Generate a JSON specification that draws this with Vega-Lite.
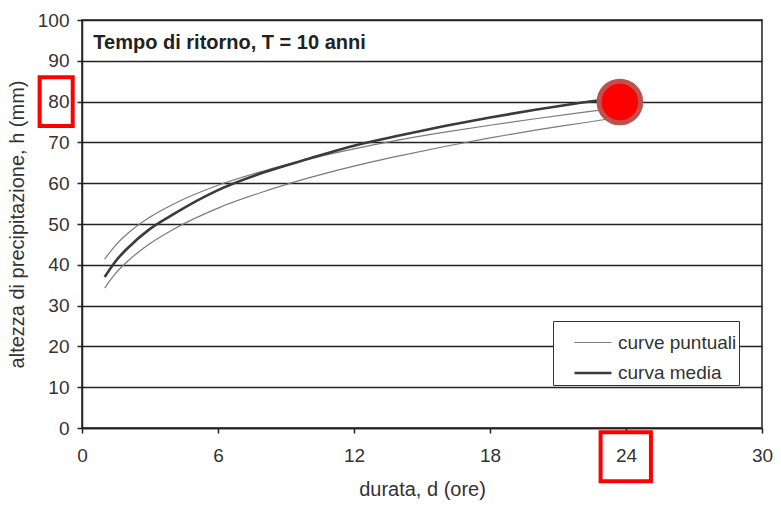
{
  "$schema": "https://vega.github.io/schema/vega-lite/v6.json",
  "width": 680,
  "height": 408,
  "autosize": {"type": "none"},
  "padding": {"left": 82, "top": 20, "right": 19, "bottom": 78},
  "background": "white",
  "config": {
    "font": "Liberation Sans",
    "view": {"stroke": "#222", "strokeWidth": 1.5},
    "axis": {
      "labelFont": "Liberation Sans",
      "labelFontSize": 19,
      "labelColor": "#333",
      "titleFont": "Liberation Sans",
      "titleFontSize": 20,
      "titleFontWeight": "normal",
      "titleColor": "#333",
      "domainColor": "#222",
      "domainWidth": 1.5,
      "tickColor": "#222",
      "tickSize": 5,
      "tickWidth": 1.5,
      "labelFlush": false
    },
    "axisX": {"grid": false, "labelPadding": 13, "titlePadding": 14},
    "axisY": {"grid": true, "gridColor": "#222", "gridWidth": 1.5, "gridOpacity": 1, "labelPadding": 8, "titlePadding": 10}
  },
  "layer": [
    {
      "data": {"values": [
        {"d": 1, "h": 41.4, "curva": "p1", "tipo": "curve puntuali"},
        {"d": 1.5, "h": 44.9, "curva": "p1", "tipo": "curve puntuali"},
        {"d": 2, "h": 47.6, "curva": "p1", "tipo": "curve puntuali"},
        {"d": 3, "h": 51.7, "curva": "p1", "tipo": "curve puntuali"},
        {"d": 4, "h": 54.8, "curva": "p1", "tipo": "curve puntuali"},
        {"d": 6, "h": 59.5, "curva": "p1", "tipo": "curve puntuali"},
        {"d": 8, "h": 63.0, "curva": "p1", "tipo": "curve puntuali"},
        {"d": 10, "h": 65.9, "curva": "p1", "tipo": "curve puntuali"},
        {"d": 12, "h": 68.4, "curva": "p1", "tipo": "curve puntuali"},
        {"d": 14, "h": 70.6, "curva": "p1", "tipo": "curve puntuali"},
        {"d": 16, "h": 72.5, "curva": "p1", "tipo": "curve puntuali"},
        {"d": 18, "h": 74.2, "curva": "p1", "tipo": "curve puntuali"},
        {"d": 20, "h": 75.8, "curva": "p1", "tipo": "curve puntuali"},
        {"d": 22, "h": 77.3, "curva": "p1", "tipo": "curve puntuali"},
        {"d": 24, "h": 78.7, "curva": "p1", "tipo": "curve puntuali"},
        {"d": 1, "h": 34.3, "curva": "p2", "tipo": "curve puntuali"},
        {"d": 1.5, "h": 38.0, "curva": "p2", "tipo": "curve puntuali"},
        {"d": 2, "h": 40.8, "curva": "p2", "tipo": "curve puntuali"},
        {"d": 3, "h": 45.2, "curva": "p2", "tipo": "curve puntuali"},
        {"d": 4, "h": 48.6, "curva": "p2", "tipo": "curve puntuali"},
        {"d": 6, "h": 53.9, "curva": "p2", "tipo": "curve puntuali"},
        {"d": 8, "h": 57.9, "curva": "p2", "tipo": "curve puntuali"},
        {"d": 10, "h": 61.3, "curva": "p2", "tipo": "curve puntuali"},
        {"d": 12, "h": 64.2, "curva": "p2", "tipo": "curve puntuali"},
        {"d": 14, "h": 66.7, "curva": "p2", "tipo": "curve puntuali"},
        {"d": 16, "h": 69.0, "curva": "p2", "tipo": "curve puntuali"},
        {"d": 18, "h": 71.1, "curva": "p2", "tipo": "curve puntuali"},
        {"d": 20, "h": 73.0, "curva": "p2", "tipo": "curve puntuali"},
        {"d": 22, "h": 74.7, "curva": "p2", "tipo": "curve puntuali"},
        {"d": 24, "h": 76.4, "curva": "p2", "tipo": "curve puntuali"},
        {"d": 1, "h": 37.0, "curva": "media", "tipo": "curva media"},
        {"d": 1.5, "h": 41.0, "curva": "media", "tipo": "curva media"},
        {"d": 2, "h": 44.0, "curva": "media", "tipo": "curva media"},
        {"d": 3, "h": 48.8, "curva": "media", "tipo": "curva media"},
        {"d": 4, "h": 52.3, "curva": "media", "tipo": "curva media"},
        {"d": 6, "h": 58.3, "curva": "media", "tipo": "curva media"},
        {"d": 8, "h": 62.6, "curva": "media", "tipo": "curva media"},
        {"d": 10, "h": 66.0, "curva": "media", "tipo": "curva media"},
        {"d": 12, "h": 69.2, "curva": "media", "tipo": "curva media"},
        {"d": 14, "h": 71.7, "curva": "media", "tipo": "curva media"},
        {"d": 16, "h": 74.0, "curva": "media", "tipo": "curva media"},
        {"d": 18, "h": 76.1, "curva": "media", "tipo": "curva media"},
        {"d": 20, "h": 78.0, "curva": "media", "tipo": "curva media"},
        {"d": 22, "h": 79.7, "curva": "media", "tipo": "curva media"},
        {"d": 24, "h": 81.2, "curva": "media", "tipo": "curva media"}
      ]},
      "mark": {"type": "line", "interpolate": "monotone"},
      "encoding": {
        "x": {"field": "d", "type": "quantitative", "scale": {"domain": [0, 30], "nice": false}, "title": "durata, d (ore)", "axis": {"values": [0, 6, 12, 18, 24, 30]}},
        "y": {"field": "h", "type": "quantitative", "scale": {"domain": [0, 100], "nice": false}, "title": "altezza di precipitazione, h (mm)", "axis": {"values": [0, 10, 20, 30, 40, 50, 60, 70, 80, 90, 100]}},
        "detail": {"field": "curva"},
        "color": {
          "field": "tipo", "type": "nominal",
          "scale": {"domain": ["curve puntuali", "curva media"], "range": ["#7a7a7a", "#3a3a3a"]},
          "legend": {"title": null, "orient": "none", "legendX": 471, "legendY": 301, "symbolType": "stroke", "symbolSize": 1369, "labelFontSize": 19, "labelColor": "#333", "strokeColor": "#333", "fillColor": "white", "padding": 2, "rowPadding": -1, "symbolOffset": 18, "labelOffset": 5, "labelExpr": "datum.label + '\u00a0\u00a0\u00a0\u00a0'"}
        },
        "strokeWidth": {
          "field": "tipo", "type": "nominal",
          "scale": {"domain": ["curve puntuali", "curva media"], "range": [1.2, 2.6]},
          "legend": {"title": null, "orient": "none", "legendX": 471, "legendY": 301, "symbolType": "stroke", "symbolSize": 1369, "labelFontSize": 19, "labelColor": "#333", "strokeColor": "#333", "fillColor": "white", "padding": 2, "rowPadding": -1, "symbolOffset": 18, "labelOffset": 5, "labelExpr": "datum.label + '\u00a0\u00a0\u00a0\u00a0'"}
        }
      }
    },
    {
      "data": {"values": [{"d": 0.5, "h": 94.3, "testo": "Tempo di ritorno, T = 10 anni"}]},
      "mark": {"type": "text", "align": "left", "baseline": "middle", "fontWeight": "bold", "fontSize": 20, "color": "#222", "font": "Liberation Sans"},
      "encoding": {
        "x": {"field": "d", "type": "quantitative", "title": "durata, d (ore)"},
        "y": {"field": "h", "type": "quantitative", "title": "altezza di precipitazione, h (mm)"},
        "text": {"field": "testo"}
      }
    },
    {
      "data": {"values": [{"d": 23.73, "h": 79.9}]},
      "mark": {"type": "point", "shape": "circle", "filled": true, "size": 1735, "fill": "#ff0000", "stroke": "#c0504d", "strokeWidth": 5, "opacity": 1},
      "encoding": {
        "x": {"field": "d", "type": "quantitative", "title": "durata, d (ore)"},
        "y": {"field": "h", "type": "quantitative", "title": "altezza di precipitazione, h (mm)"}
      }
    },
    {
      "data": {"values": [
        {"x1": -1.87, "x2": -0.41, "y1": 74.0, "y2": 85.95},
        {"x1": 22.88, "x2": 25.1, "y1": -13.06, "y2": -1.05}
      ]},
      "mark": {"type": "rect", "fill": null, "fillOpacity": 0, "stroke": "#ff0000", "strokeWidth": 4, "clip": false},
      "encoding": {
        "x": {"field": "x1", "type": "quantitative", "title": "durata, d (ore)"},
        "x2": {"field": "x2"},
        "y": {"field": "y1", "type": "quantitative", "title": "altezza di precipitazione, h (mm)"},
        "y2": {"field": "y2"}
      }
    }
  ]
}
